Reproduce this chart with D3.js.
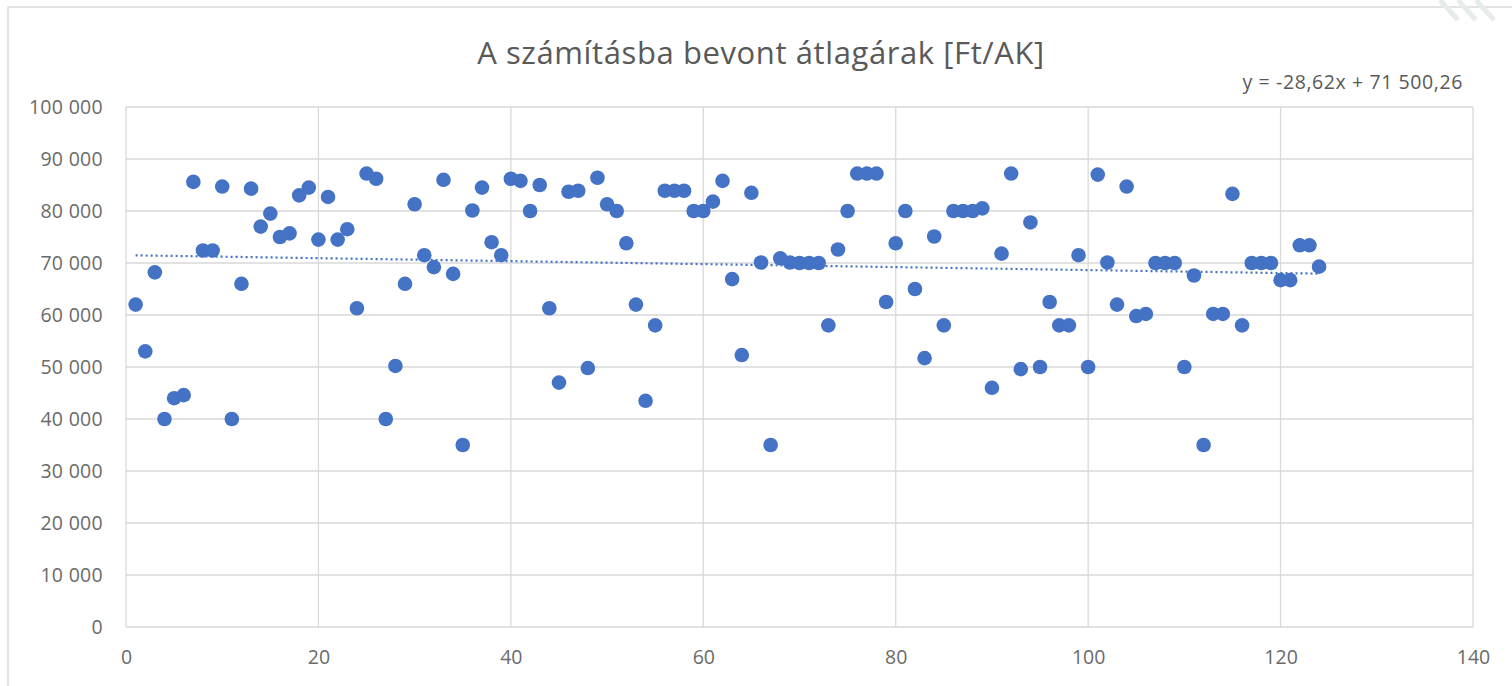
<!DOCTYPE html>
<html>
<head>
<meta charset="utf-8">
<script src="https://cdn.jsdelivr.net/npm/d3@7"></script>
<style>
  body { margin: 0; background: #fff; }
  svg { display: block; font-family: "Open Sans", Lato, sans-serif; }
</style>
</head>
<body>
<svg id="chart" width="1512" height="686"></svg>
<script>
// adatok: átlagárak sorszám szerint
const prices = [
  62000, 53000, 68200, 40000, 44000, 44600, 85600, 72400, 72400, 84700,
  40000, 66000, 84300, 77000, 79500, 75000, 75700, 83000, 84500, 74500,
  82700, 74500, 76500, 61300, 87200, 86200, 40000, 50200, 66000, 81300,
  71500, 69200, 86000, 67900, 35000, 80100, 84500, 74000, 71500, 86200,
  85800, 80000, 85000, 61300, 47000, 83700, 83900, 49800, 86400, 81300,
  80000, 73800, 62000, 43500, 58000, 83900, 83900, 83900, 80000, 80000,
  81800, 85800, 66900, 52300, 83500, 70100, 35000, 70900, 70100, 70000,
  70000, 70000, 58000, 72600, 80000, 87200, 87200, 87200, 62500, 73800,
  80000, 65000, 51700, 75100, 58000, 80000, 80000, 80000, 80500, 46000,
  71800, 87200, 49600, 77800, 50000, 62500, 58000, 58000, 71500, 50000,
  87000, 70100, 62000, 84700, 59800, 60200, 70000, 70000, 70000, 50000,
  67600, 35000, 60200, 60200, 83300, 58000, 70000, 70000, 70000, 66700,
  66700, 73400, 73400, 69300
]
const ids = prices.map((d, i) => i + 1)
const xTicks = [0, 20, 40, 60, 80, 100, 120, 140]
const yTicks = [0, 10000, 20000, 30000, 40000, 50000, 60000, 70000, 80000, 90000, 100000]
const slope = -28.62
const intercept = 71500.26
const title = "A számításba bevont átlagárak [Ft/AK]"
const equation = "y = -28,62x + 71 500,26"

const margin = { top: 107, right: 39, bottom: 59, left: 126 }
const width = 1512 - margin.left - margin.right
const height = 686 - margin.top - margin.bottom

const svg = d3.select("#chart")

// keret
svg.append("rect")
  .attr("x", 8).attr("y", 7).attr("width", 1520).attr("height", 690)
  .attr("fill", "none").attr("stroke", "#d9d9d9").attr("stroke-width", 1.5)

// halvány díszítés a jobb felső sarokban
svg.append("g").selectAll("line").data([0, 1, 2]).join("line")
  .attr("x1", d => 1440 + d * 18).attr("y1", 0)
  .attr("x2", d => 1458 + d * 18).attr("y2", 20)
  .attr("stroke", "#e6ece9").attr("stroke-width", 5)

const g = svg.append("g")
  .attr("transform", "translate(" + margin.left + "," + margin.top + ")")

const x = d3.scaleLinear().domain([0, 140]).range([0, width])
const y = d3.scaleLinear().domain([0, 100000]).range([height, 0])

const fmt = v => d3.format(",")(v).replace(/,/g, " ")

// rácsvonalak
g.append("g").selectAll("line").data(yTicks).join("line")
  .attr("x1", 0).attr("x2", width)
  .attr("y1", d => y(d)).attr("y2", d => y(d))
  .attr("stroke", "#d9d9d9").attr("stroke-width", 1.3)
g.append("g").selectAll("line").data(xTicks).join("line")
  .attr("x1", d => x(d)).attr("x2", d => x(d))
  .attr("y1", 0).attr("y2", height)
  .attr("stroke", "#d9d9d9").attr("stroke-width", 1.3)

// tengelyek
const xAxis = g.append("g")
  .attr("transform", "translate(0," + height + ")")
  .call(d3.axisBottom(x).tickValues(xTicks).tickSize(0).tickPadding(23))
const yAxis = g.append("g")
  .call(d3.axisLeft(y).tickValues(yTicks).tickFormat(fmt).tickSize(0).tickPadding(23))
for (const ax of [xAxis, yAxis]) {
  ax.select(".domain").remove()
  ax.selectAll("text")
    .attr("fill", "#6a6a6a")
    .style("font-family", "'Open Sans', sans-serif")
    .style("font-size", "19.5px")
}
yAxis.selectAll("text").attr("dy", "0.35em").style("letter-spacing", "0.3px")

// pontok
g.append("g").selectAll("circle").data(ids).join("circle")
  .attr("cx", d => x(d))
  .attr("cy", (d, i) => y(prices[i]))
  .attr("r", 7.3)
  .attr("fill", "#4472c4")

// lineáris trendvonal
const trend = [ids[0], ids[ids.length - 1]].map(v => [v, slope * v + intercept])
g.append("path")
  .datum(trend)
  .attr("d", d3.line().x(d => x(d[0])).y(d => y(d[1])))
  .attr("fill", "none")
  .attr("stroke", "#4472c4")
  .attr("stroke-width", 2.2)
  .attr("stroke-dasharray", "2 3")

// címek
svg.append("text")
  .attr("x", 761).attr("y", 64)
  .attr("text-anchor", "middle")
  .attr("fill", "#595959")
  .style("font-size", "31px")
  .style("letter-spacing", "0.6px")
  .text(title)

svg.append("text")
  .attr("x", 1463).attr("y", 89)
  .attr("text-anchor", "end")
  .attr("fill", "#595959")
  .style("font-size", "19.5px")
  .style("letter-spacing", "0.6px")
  .text(equation)
</script>
</body>
</html>
